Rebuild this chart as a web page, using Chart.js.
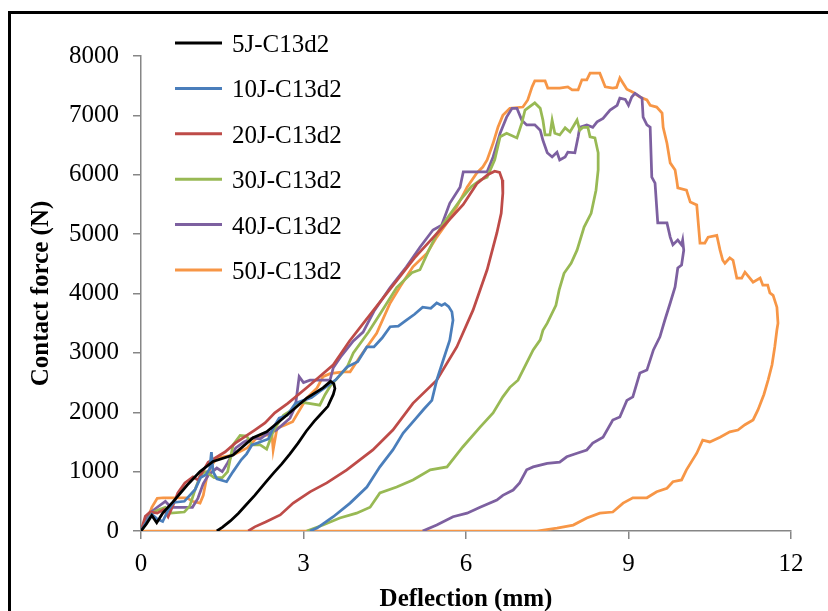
<!DOCTYPE html>
<html>
<head>
<meta charset="utf-8">
<script src="https://cdn.jsdelivr.net/npm/chart.js@4.4.0/dist/chart.umd.min.js"></script>
<style>
  body { margin: 0; background: #fff; }
  #wrap { position: relative; width: 828px; height: 611px; overflow: hidden; }
  #frame { position: absolute; left: 8px; top: 11px; width: 900px; height: 700px;
           border-left: 3px solid #000; border-top: 3px solid #000; }
  #chart-box { position: absolute; left: 0; top: 0; width: 828px; height: 611px; }
</style>
</head>
<body>
<div id="wrap">
  <div id="frame"></div>
  <div id="chart-box"><canvas id="chart"></canvas></div>
</div>
<script>
const seriesNames = ['5J-C13d2', '10J-C13d2', '20J-C13d2', '30J-C13d2', '40J-C13d2', '50J-C13d2'];
const seriesColors = ['#000000', '#4A7EBB', '#BE4B48', '#98B954', '#7D60A0', '#F79646'];

// deflection (mm) / contact force (N)
const x5 = [0, 0.1, 0.2, 0.29, 0.4, 0.59, 0.85, 1.09, 1.33, 1.7, 2.07, 2.32, 2.69, 3.06, 3.36, 3.5, 3.56, 3.58, 3.55, 3.45, 3.3, 3.2, 3.05, 2.9, 2.75, 2.6, 2.45, 2.3, 2.1, 1.95, 1.8, 1.65, 1.5, 1.4];
const y5 = [0, 120, 260, 140, 300, 490, 770, 1000, 1170, 1280, 1570, 1670, 1950, 2240, 2410, 2520, 2480, 2400, 2300, 2100, 1950, 1850, 1680, 1480, 1300, 1130, 980, 820, 600, 450, 300, 170, 60, 0];

const x10 = [0, 0.1, 0.2, 0.3, 0.4, 0.5, 0.6, 0.8, 1.0, 1.1, 1.2, 1.27, 1.3, 1.33, 1.4, 1.58, 1.7, 1.85, 1.95, 2.05, 2.2, 2.35, 2.45, 2.55, 2.7, 2.85, 3.0, 3.15, 3.3, 3.45, 3.6, 3.8, 4.0, 4.17, 4.3, 4.45, 4.6, 4.75, 4.9, 5.05, 5.2, 5.35, 5.46, 5.55, 5.61, 5.68, 5.74, 5.76, 5.7, 5.58, 5.46, 5.37, 5.22, 5.08, 4.84, 4.65, 4.41, 4.17, 3.86, 3.55, 3.25, 3.12];
const y10 = [0, 150, 280, 200, 160, 350, 480, 500, 700, 900, 950, 1050, 1330, 1000, 880, 830, 1000, 1200, 1300, 1450, 1500, 1550, 1750, 1900, 1950, 2150, 2200, 2250, 2350, 2450, 2550, 2760, 2850, 3100, 3100, 3250, 3440, 3450, 3550, 3650, 3770, 3750, 3840, 3800, 3830, 3780, 3690, 3550, 3215, 2880, 2540, 2200, 2050, 1900, 1650, 1365, 1080, 740, 470, 240, 50, 0];

const x20 = [0, 0.08, 0.17, 0.3, 0.42, 0.5, 0.6, 0.68, 0.81, 0.96, 1.05, 1.24, 1.55, 1.74, 2.1, 2.29, 2.47, 2.71, 3.08, 3.55, 3.85, 4.15, 4.45, 4.75, 5.05, 5.35, 5.65, 5.95, 6.2, 6.4, 6.53, 6.62, 6.67, 6.68, 6.65, 6.57, 6.39, 6.13, 5.83, 5.46, 5.02, 4.65, 4.28, 3.8, 3.43, 3.12, 2.81, 2.57, 2.3, 2.1, 1.98];
const y20 = [0, 250, 320, 300, 360, 240, 450, 640, 810, 910, 860, 1160, 1330, 1480, 1700, 1820, 1990, 2150, 2430, 2800, 3200, 3550, 3900, 4250, 4600, 4900, 5200, 5500, 5850, 6000, 6060, 6040, 5910, 5690, 5350, 5020, 4400, 3720, 3100, 2540, 2150, 1700, 1365, 1030, 810, 660, 470, 270, 150, 70, 0];

const x30 = [0, 0.1, 0.2, 0.3, 0.45, 0.55, 0.8, 0.9, 1.0, 1.1, 1.2, 1.35, 1.5, 1.6, 1.7, 1.83, 1.95, 2.05, 2.2, 2.32, 2.45, 2.63, 2.8, 2.94, 3.1, 3.3, 3.4, 3.5, 3.65, 3.8, 3.92, 4.2, 4.41, 4.72, 5.0, 5.15, 5.3, 5.46, 5.6, 5.89, 6.1, 6.26, 6.39, 6.53, 6.63, 6.75, 6.94, 7.03, 7.09, 7.27, 7.37, 7.42, 7.46, 7.55, 7.59, 7.64, 7.73, 7.83, 7.92, 8.05, 8.1, 8.16, 8.25, 8.29, 8.38, 8.44, 8.44, 8.4, 8.31, 8.18, 8.05, 7.94, 7.81, 7.72, 7.66, 7.5, 7.42, 7.37, 7.24, 7.12, 6.96, 6.81, 6.68, 6.5, 6.26, 5.94, 5.65, 5.34, 5.02, 4.72, 4.41, 4.23, 3.98, 3.67, 3.36, 3.06];
const y30 = [0, 150, 300, 350, 400, 300, 320, 420, 700, 950, 1000, 900, 900, 1000, 1450, 1610, 1600, 1450, 1450, 1380, 1700, 1950, 2050, 2170, 2150, 2120, 2300, 2450, 2600, 2750, 3000, 3350, 3650, 4100, 4350, 4400, 4700, 5000, 5200, 5570, 5800, 5910, 5960, 6250, 6640, 6700, 6620, 6870, 7090, 7210, 7120, 6920, 6670, 6670, 6920, 6700, 6670, 6790, 6720, 6920, 6750, 6800, 6800, 6640, 6620, 6370, 6080, 5740, 5350, 5120, 4730, 4510, 4340, 4060, 3800, 3500, 3380, 3220, 3050, 2830, 2540, 2420, 2260, 1990, 1750, 1415, 1080, 1030, 860, 740, 640, 400, 300, 220, 100, 0];

const x40 = [0, 0.1, 0.2, 0.3, 0.45, 0.55, 0.75, 0.95, 1.05, 1.15, 1.25, 1.4, 1.5, 1.6, 1.75, 1.9, 2.07, 2.2, 2.3, 2.5, 2.75, 2.85, 2.92, 3.0, 3.12, 3.49, 3.55, 3.7, 3.92, 4.1, 4.3, 4.6, 4.9, 5.15, 5.39, 5.55, 5.7, 5.89, 5.95, 6.39, 6.5, 6.63, 6.75, 6.85, 6.94, 7.03, 7.12, 7.27, 7.37, 7.42, 7.5, 7.59, 7.68, 7.73, 7.83, 7.88, 8.01, 8.07, 8.1, 8.23, 8.34, 8.42, 8.53, 8.66, 8.79, 8.84, 8.94, 9.0, 9.06, 9.12, 9.25, 9.27, 9.34, 9.4, 9.43, 9.49, 9.54, 9.71, 9.77, 9.82, 9.91, 9.98, 10.0, 10.02, 9.98, 9.91, 9.86, 9.77, 9.67, 9.58, 9.46, 9.34, 9.21, 9.08, 8.97, 8.84, 8.71, 8.53, 8.34, 8.23, 8.05, 7.86, 7.73, 7.5, 7.24, 7.12, 6.99, 6.87, 6.68, 6.57, 6.26, 6.02, 5.76, 5.46, 5.2];
const y40 = [0, 200, 330, 400, 500, 400, 400, 400, 550, 800, 950, 1060, 1000, 1150, 1400, 1500, 1570, 1550, 1620, 1700, 1900, 2100, 2600, 2500, 2540, 2540, 2750, 2950, 3200, 3350, 3700, 4100, 4450, 4780, 5070, 5150, 5520, 5790, 6050, 6050, 6300, 6700, 6970, 7120, 7120, 6920, 6840, 6840, 6750, 6580, 6370, 6300, 6380, 6250, 6300, 6380, 6370, 6640, 6800, 6840, 6800, 6890, 6950, 7090, 7170, 7290, 7270, 7170, 7310, 7370, 7290, 6970, 6840, 6800, 5960, 5860, 5190, 5190, 4950, 4820, 4900, 4820, 4900, 4730, 4480, 4430, 4110, 3840, 3550, 3270, 3050, 2710, 2660, 2260, 2200, 1920, 1870, 1580, 1480, 1365, 1310, 1250, 1160, 1140, 1080, 1030, 810, 690, 600, 520, 400, 300, 240, 100, 0];

const x50 = [0, 0.1, 0.2, 0.3, 0.41, 0.85, 0.95, 1.09, 1.15, 1.21, 1.3, 1.4, 1.7, 1.96, 2.14, 2.32, 2.42, 2.44, 2.51, 2.65, 2.8, 3.06, 3.25, 3.36, 3.49, 3.73, 3.86, 4.04, 4.17, 4.35, 4.6, 4.78, 5.02, 5.28, 5.46, 5.65, 5.83, 6.02, 6.2, 6.31, 6.39, 6.5, 6.59, 6.68, 6.81, 7.05, 7.14, 7.22, 7.27, 7.46, 7.51, 7.73, 7.88, 7.96, 8.07, 8.14, 8.23, 8.29, 8.47, 8.57, 8.71, 8.78, 8.84, 8.9, 8.97, 9.08, 9.21, 9.34, 9.4, 9.52, 9.62, 9.64, 9.71, 9.77, 9.86, 9.89, 9.91, 10.07, 10.14, 10.26, 10.32, 10.41, 10.47, 10.63, 10.69, 10.74, 10.78, 10.87, 10.93, 11.0, 11.09, 11.15, 11.24, 11.3, 11.43, 11.48, 11.57, 11.61, 11.67, 11.74, 11.76, 11.74, 11.7, 11.65, 11.58, 11.5, 11.39, 11.3, 11.15, 11.02, 10.87, 10.69, 10.5, 10.37, 10.26, 10.07, 9.98, 9.82, 9.71, 9.52, 9.34, 9.08, 8.9, 8.71, 8.47, 8.23, 7.98, 7.68, 7.31, 0];
const y50 = [0, 150, 400, 550, 560, 560, 500, 470, 600, 890, 1100, 1230, 1280, 1400, 1570, 1620, 1600, 1365, 1730, 1780, 1840, 2240, 2410, 2600, 2650, 2680, 2680, 2930, 3100, 3330, 3840, 4110, 4450, 4680, 4950, 5190, 5460, 5790, 6030, 6130, 6250, 6530, 6800, 7000, 7120, 7140, 7260, 7480, 7580, 7580, 7460, 7460, 7480, 7430, 7430, 7600, 7600, 7710, 7710, 7480, 7460, 7470, 7630, 7540, 7440, 7390, 7310, 7260, 7170, 7140, 7040, 6800, 6530, 6200, 6080, 5910, 5780, 5740, 5540, 5490, 4850, 4850, 4950, 4980, 4730, 4560, 4510, 4600, 4560, 4260, 4260, 4360, 4260, 4190, 4260, 4140, 4140, 4010, 3970, 3770, 3500, 3390, 3100, 2800, 2550, 2300, 2040, 1870, 1790, 1700, 1670, 1580, 1500, 1530, 1310, 1030, 860, 830, 720, 660, 560, 560, 470, 320, 300, 220, 100, 50, 0, 0];

const seriesX = [x5, x10, x20, x30, x40, x50];
const seriesY = [y5, y10, y20, y30, y40, y50];

const serif = "'Liberation Serif', 'Times New Roman', serif";
const axisGray = '#868686';

const legendPlugin = {
    id: 'sideLegend',
    afterDraw(chart) {
        const ctx = chart.ctx;
        ctx.save();
        ctx.font = `25px ${serif}`;
        ctx.textBaseline = 'middle';
        ctx.textAlign = 'left';
        seriesNames.forEach((name, i) => {
            const y = 43 + i * 45.4;
            ctx.strokeStyle = seriesColors[i];
            ctx.lineWidth = 3;
            ctx.beginPath();
            ctx.moveTo(175, y);
            ctx.lineTo(222, y);
            ctx.stroke();
            ctx.fillStyle = '#000';
            ctx.fillText(name, 232, y + 2.5);
        });
        ctx.restore();
    }
};

new Chart(document.getElementById('chart'), {
    type: 'scatter',
    data: {
        datasets: seriesNames.map((name, i) => ({
            label: name,
            data: seriesX[i].map((x, j) => ({ x, y: seriesY[i][j] })),
            showLine: true,
            borderColor: seriesColors[i],
            backgroundColor: seriesColors[i],
            borderWidth: 2.75,
            pointRadius: 0,
            tension: 0
        }))
    },
    options: {
        responsive: true,
        maintainAspectRatio: false,
        animation: false,
        layout: { padding: { top: 56, right: 37, left: 0, bottom: 0 } },
        plugins: {
            legend: { display: false },
            tooltip: { enabled: false }
        },
        scales: {
            x: {
                type: 'linear',
                min: 0,
                max: 12,
                afterFit: (s) => { s.height = 80; },
                ticks: { stepSize: 3, color: '#000', padding: 10, font: { family: serif, size: 25 },
                         callback: (v) => String(v) },
                grid: { drawOnChartArea: false, drawTicks: true, tickLength: 8, color: axisGray, lineWidth: 1.5 },
                border: { display: true, color: axisGray, width: 1.5 },
                title: { display: true, text: 'Deflection (mm)', color: '#000', padding: { top: 0, bottom: 0 },
                         font: { family: serif, size: 25, weight: 'bold', lineHeight: 0.9 } }
            },
            y: {
                min: 0,
                max: 8000,
                afterFit: (s) => { s.width = 141; },
                ticks: { stepSize: 1000, color: '#000', padding: 14, font: { family: serif, size: 25 },
                         callback: (v) => String(v) },
                grid: { drawOnChartArea: false, drawTicks: true, tickLength: 8, color: axisGray, lineWidth: 1.5 },
                border: { display: true, color: axisGray, width: 1.5 },
                title: { display: true, text: 'Contact force (N)', color: '#000', padding: { top: 27, bottom: 0 },
                         font: { family: serif, size: 25, weight: 'bold' } }
            }
        }
    },
    plugins: [legendPlugin]
});
</script>
</body>
</html>
